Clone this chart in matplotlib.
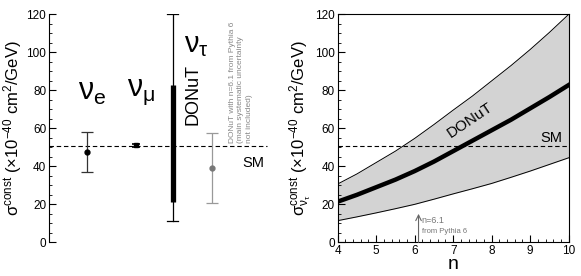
import matplotlib
matplotlib.use('Agg')
import matplotlib.pyplot as plt
from matplotlib.ticker import MultipleLocator
import numpy as np

plt.rcParams['font.family'] = ['Liberation Sans', 'DejaVu Sans']
plt.rcParams['mathtext.fontset'] = 'custom'
plt.rcParams['mathtext.rm'] = 'Liberation Sans'
plt.rcParams['mathtext.it'] = 'Liberation Sans'
plt.rcParams['mathtext.bf'] = 'Liberation Sans:bold'

# left panel: measured sigma^const per neutrino flavour
sm_value = 50.5
nue = [47.5, 37.0, 58.0]          # value, low, high
numu = [51.0, 50.0, 52.0]
donut_stat = [21.0, 83.0]         # thick bar
donut_full = [11.0, 120.0]        # thin bar
donut_pythia = [39.0, 20.5, 57.5]

# right panel: DONuT sigma^const vs n
n_vals = [4.0, 4.5, 5.0, 5.5, 6.0, 6.5, 7.0, 7.5, 8.0, 8.5, 9.0, 9.5, 10.0]
sig_mid = [21.4, 25.0, 29.0, 33.0, 37.5, 42.5, 48.0, 53.5, 59.0, 64.5, 70.5, 76.5, 82.8]
sig_hi = [30.7, 36.0, 42.0, 48.0, 54.7, 62.0, 69.6, 77.0, 85.0, 93.0, 101.5, 110.5, 120.0]
sig_lo = [11.4, 13.4, 15.5, 17.7, 20.0, 22.7, 25.5, 28.2, 31.0, 34.2, 37.5, 41.0, 44.5]
n_pythia = 6.1

fig = plt.figure(figsize=(5.81, 2.76), dpi=100)
ax1 = fig.add_axes([0.0843, 0.122, 0.380, 0.826])
ax2 = fig.add_axes([0.5812, 0.122, 0.3976, 0.826])

# ---- left panel
xpos = [0.172, 0.394, 0.561, 0.738]
ax1.plot([0, 0.986], [sm_value, sm_value], ls=(0, (4, 2.5)), color='black', lw=0.8)
ax1.errorbar(xpos[0], nue[0], yerr=[[nue[0] - nue[1]], [nue[2] - nue[0]]],
             fmt='o', ms=3.5, color='black', ecolor='#333333', elinewidth=0.9, capsize=4, capthick=0.9)
ax1.errorbar(xpos[1], numu[0], yerr=[[numu[0] - numu[1]], [numu[2] - numu[0]]],
             fmt='s', ms=3, color='black', elinewidth=1.5, capsize=3, capthick=1.2)
ax1.plot([xpos[2], xpos[2]], donut_full, color='black', lw=0.9)
ax1.plot([xpos[2] - 0.025, xpos[2] + 0.025], [donut_full[0]] * 2, color='black', lw=0.9)
ax1.plot([xpos[2] - 0.025, xpos[2] + 0.025], [donut_full[1]] * 2, color='black', lw=0.9)
ax1.plot([xpos[2], xpos[2]], donut_stat, color='black', lw=3.8, solid_capstyle='butt')
ax1.errorbar(xpos[3], donut_pythia[0],
             yerr=[[donut_pythia[0] - donut_pythia[1]], [donut_pythia[2] - donut_pythia[0]]],
             fmt='o', ms=3.5, color='#777777', ecolor='#999999', elinewidth=0.9, capsize=4, capthick=0.9)

ax1.text(0.197, 79, r'$\nu_{\rm e}$', fontsize=22, ha='center', va='center')
ax1.text(0.415, 79, r'$\nu_{\rm \mu}$', fontsize=22, ha='center', va='center')
ax1.text(0.665, 104, r'$\nu_{\rm \tau}$', fontsize=21, ha='center', va='center')
ax1.text(0.652, 78, 'DONuT', fontsize=13, rotation=90, ha='center', va='center')
ax1.text(0.869, 52.5, 'DONuT with n=6.1 from Pythia 6\n(main systematic uncertainty\nnot included)',
         fontsize=6, color='#888888', rotation=90, ha='center', va='bottom',
         multialignment='left', linespacing=1.35)
ax1.text(0.925, 42, 'SM', fontsize=10.5, ha='center', va='center')

ax1.set_xlim(0, 1)
ax1.set_ylim(0, 120)
for s in ['top', 'right', 'bottom']:
    ax1.spines[s].set_visible(False)
ax1.set_xticks([])
ax1.yaxis.set_major_locator(MultipleLocator(20))
ax1.yaxis.set_minor_locator(MultipleLocator(5))
ax1.tick_params(axis='y', which='major', direction='in', length=5, labelsize=8.5, pad=2)
ax1.tick_params(axis='y', which='minor', direction='in', length=2.5)
ax1.set_ylabel(r'σ$^{\rm const}$ ($\times$10$^{-40}$ cm$^{2}$/GeV)', fontsize=12, labelpad=2)

# ---- right panel
ax2.fill_between(n_vals, sig_lo, sig_hi, color='#d3d3d3', lw=0)
ax2.plot(n_vals, sig_hi, color='black', lw=0.7)
ax2.plot(n_vals, sig_lo, color='black', lw=0.7)
ax2.plot(n_vals, sig_mid, color='black', lw=3.2)
ax2.axhline(sm_value, ls=(0, (4, 2.5)), color='black', lw=0.8)
ax2.annotate('', xy=(n_pythia, 15), xytext=(n_pythia, 0),
             arrowprops=dict(arrowstyle='->', color='#666666', lw=0.8, shrinkA=0, shrinkB=0))
ax2.text(n_pythia + 0.08, 11.5, 'n=6.1', fontsize=6.5, color='#777777', ha='left', va='center')
ax2.text(n_pythia + 0.08, 5.5, 'from Pythia 6', fontsize=5.5, color='#777777', ha='left', va='center')
ax2.text(7.44, 64.5, 'DONuT', fontsize=11, rotation=34, ha='center', va='center')
ax2.text(9.56, 55, 'SM', fontsize=10.5, ha='center', va='center')

ax2.set_xlim(4, 10)
ax2.set_ylim(0, 120)
ax2.xaxis.set_major_locator(MultipleLocator(1))
ax2.xaxis.set_minor_locator(MultipleLocator(0.2))
ax2.yaxis.set_major_locator(MultipleLocator(20))
ax2.yaxis.set_minor_locator(MultipleLocator(5))
ax2.tick_params(which='major', direction='in', length=5, labelsize=8.5, pad=2)
ax2.tick_params(which='minor', direction='in', length=2.5)
ax2.set_xlabel('n', fontsize=14, labelpad=-1)
ax2.set_ylabel(r'σ$^{\rm const}_{\nu_{\tau}}$ ($\times$10$^{-40}$ cm$^{2}$/GeV)', fontsize=12, labelpad=1)

fig.savefig('out.png', dpi=100)
